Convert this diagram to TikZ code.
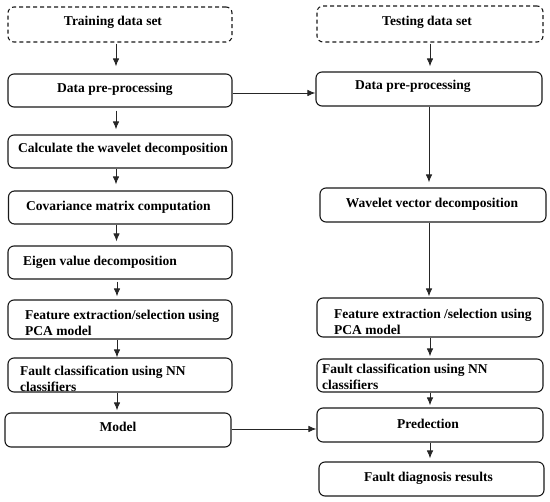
\documentclass[tikz,border=0pt]{standalone}
\usepackage{fontspec}
\setmainfont{Liberation Serif}
\usetikzlibrary{arrows.meta}
\begin{document}
\begin{tikzpicture}[x=1pt,y=-1pt,
  box/.style={draw=black!90,line width=1.1pt,rounded corners=6pt,minimum width=224pt,minimum height=33pt,inner sep=0pt},
  dbox/.style={box,dash pattern=on 4pt off 3pt},
  txt/.style={font=\fontsize{13.5}{16}\selectfont\bfseries,inner sep=0pt,align=left},
  arr/.style={draw=black!85,line width=0.9pt,-{Latex[length=8pt,width=6.5pt]}},
  ln/.style={draw=black!85,line width=0.9pt}]
\useasboundingbox (0,0) rectangle (550,502);
% left column boxes
\node[dbox,minimum height=35pt] (t0) at (120,24.5) {};
\node[box] (l1) at (120,90.5) {};
\node[box] (l2) at (120,151.5) {};
\node[box] (l3) at (120.5,207.5) {};
\node[box] (l4) at (120,262.5) {};
\node[box,minimum height=39pt] (l5) at (120,319.5) {};
\node[box,minimum height=34pt] (l6) at (120,375) {};
\node[box,minimum width=226pt,minimum height=34pt] (l7) at (118,430) {};
% right column boxes
\node[dbox,minimum width=226pt,minimum height=36pt] (t1) at (430,24) {};
\node[box,minimum width=226pt,minimum height=34pt] (r1) at (429,89) {};
\node[box,minimum width=226pt,minimum height=34pt] (r2) at (433,205) {};
\node[box,minimum width=226pt,minimum height=39pt] (r3) at (430,317.5) {};
\node[box,minimum width=226pt] (r4) at (430,375.5) {};
\node[box,minimum width=226pt,minimum height=34pt] (r5) at (430,425) {};
\node[box,minimum width=225pt,minimum height=34pt] (r6) at (431.5,479) {};
% texts
\node[txt,anchor=base] (t0t) at (113,25.5) {Training data set};
\node[txt,anchor=base west] (l1t) at (57,92.5) {Data pre-processing};
\node[txt,anchor=base west] (l2t) at (18,153) {Calculate the wavelet decomposition};
\node[txt,anchor=base west] (l3t) at (26,211) {Covariance matrix computation};
\node[txt,anchor=base west] (l4t) at (23,266) {Eigen value decomposition};
\node[txt,anchor=base west] (l5t) at (25,336) {Feature extraction/selection using\\PCA model};
\node[txt,anchor=base west] (l6t) at (20,391.5) {Fault classification using NN\\classifiers};
\node[txt,anchor=base] (l7t) at (118,431.5) {Model};
\node[txt,anchor=base] (t1t) at (427,26) {Testing data set};
\node[txt,anchor=base west] (r1t) at (355,90) {Data pre-processing};
\node[txt,anchor=base] (r2t) at (432,207.3) {Wavelet vector decomposition};
\node[txt,anchor=base west] (r3t) at (334,335) {Feature extraction /selection using\\PCA model};
\node[txt,anchor=base west] (r4t) at (322,389.5) {Fault classification using NN\\classifiers};
\node[txt,anchor=base] (r5t) at (428,429) {Predection};
\node[txt,anchor=base] (r6t) at (428.5,481.7) {Fault diagnosis results};
% left arrows
\draw[arr,shorten <=1pt,shorten >=7pt] ([xshift=-4pt]t0.south) -- ([xshift=-4pt]l1.north);
\draw[arr,shorten <=3pt,shorten >=5pt] ([xshift=-4pt]l1.south) -- ([xshift=-4pt]l2.north);
\draw[arr,shorten >=6pt] ([xshift=-4pt]l2.south) -- ([xshift=-4.5pt]l3.north);
\draw[arr,shorten >=4pt] ([xshift=-4pt]l3.south) -- ([xshift=-3.5pt]l4.north);
\draw[arr,shorten <=2pt,shorten >=3pt] ([xshift=-3pt]l4.south) -- ([xshift=-3pt]l5.north);
\draw[arr] ([xshift=-3pt]l5.south) -- ([xshift=-3pt]l6.north);
\draw[arr,shorten >=2pt] ([xshift=-3pt]l6.south) -- ([xshift=-1pt]l7.north);
% right arrows
\draw[arr,shorten <=1pt,shorten >=5pt] (t1.south) -- (t1.south |- r1.north);
\draw[arr,shorten >=5pt] (r1.south) -- (r1.south |- r2.north);
\draw[arr,shorten >=1pt] ([xshift=-4pt]r2.south) -- ([xshift=-4pt]r2.south |- r3.north);
\draw[arr,shorten >=2pt] (r3.south) -- (r3.south |- r4.north);
\draw[arr,shorten >=2pt] (r4.south) -- (r4.south |- r5.north);
\draw[arr,shorten >=3pt] (r5.south) -- (r5.south |- r6.north);
% horizontal connectors
\draw[arr] ([yshift=-2.5pt]l1.east) -- ([yshift=-4pt]r1.west);
\draw[arr] ([yshift=1pt]l7.east) -- ([yshift=-4pt]r5.west);
\end{tikzpicture}
\end{document}
